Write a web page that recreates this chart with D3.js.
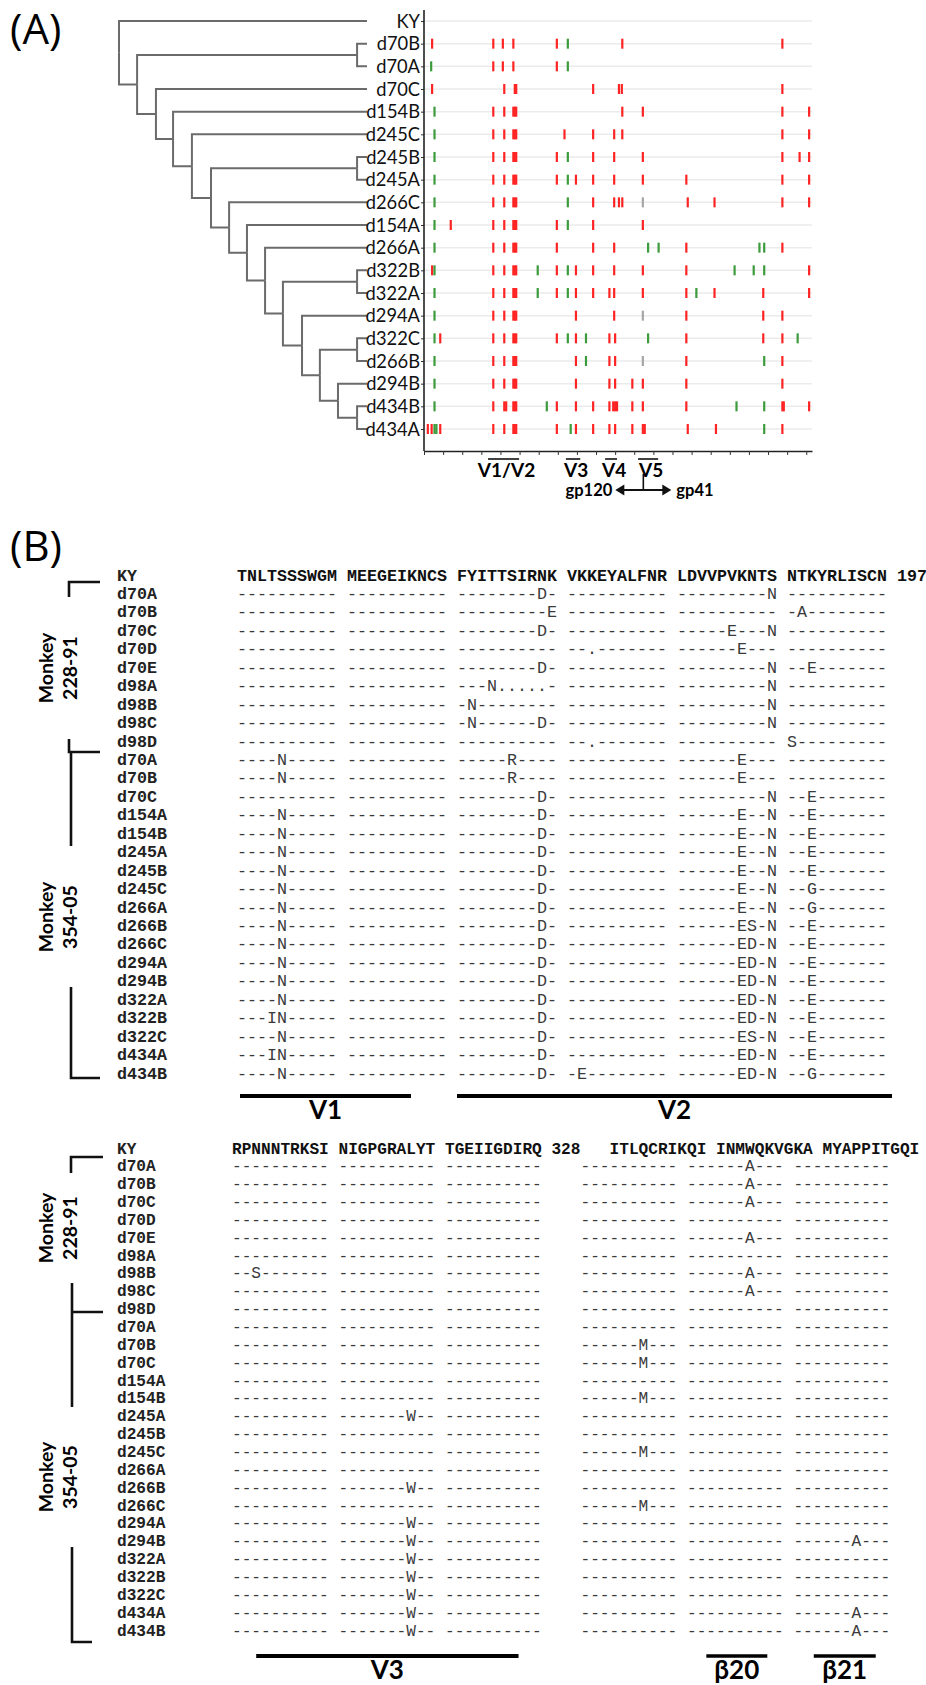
<!DOCTYPE html>
<html>
<head>
<meta charset="UTF-8">
<script src="https://d3js.org/d3.v7.min.js"></script>
<style>
  body { margin: 0; background: #fff; }
  svg text { font-family: Lato, "Open Sans", sans-serif; }
  .mono { font-family: "Courier New", "Nimbus Mono PS", "Liberation Mono", monospace; }
</style>
</head>
<body>
<svg width="926" height="1685"></svg>
<script>
// ---------- panel A: tree (id, parent, distance from root) ----------
var treeTable = [
  ["root", null, 0],
  ["KY", "root", 1],
  ["n1", "root", 0.073],
  ["c70", "n1", 0.96], ["d70B", "c70", 1], ["d70A", "c70", 1],
  ["n2", "n1", 0.149], ["d70C", "n2", 1],
  ["n3", "n2", 0.218], ["d154B", "n3", 1],
  ["n4", "n3", 0.294], ["d245C", "n4", 1],
  ["n5", "n4", 0.371],
  ["c245", "n5", 0.96], ["d245B", "c245", 1], ["d245A", "c245", 1],
  ["n6", "n5", 0.444], ["d266C", "n6", 1],
  ["n7", "n6", 0.516], ["d154A", "n7", 1],
  ["n8", "n7", 0.589], ["d266A", "n8", 1],
  ["n9", "n8", 0.661],
  ["c322", "n9", 0.96], ["d322B", "c322", 1], ["d322A", "c322", 1],
  ["n10", "n9", 0.738], ["d294A", "n10", 1],
  ["n11", "n10", 0.81],
  ["c322b", "n11", 0.96], ["d322C", "c322b", 1], ["d266B", "c322b", 1],
  ["n12", "n11", 0.883], ["d294B", "n12", 1],
  ["c434", "n12", 0.96], ["d434B", "c434", 1], ["d434A", "c434", 1]
];

// mutation positions along env (red = non-synonymous, green = synonymous, grey = other)
var redMarks = {
  d70B: [17, 145, 165, 187, 278, 415, 750],
  d70A: [145, 165, 187, 278],
  d70C: [17, 168, 190, 193, 354, 408, 414, 750],
  d154B: [145, 168, 187, 190, 193, 415, 458, 750, 806],
  d245C: [145, 168, 187, 190, 193, 294, 354, 398, 415, 750, 806],
  d245B: [145, 168, 187, 190, 193, 278, 354, 398, 458, 750, 786, 806],
  d245A: [145, 168, 187, 190, 193, 278, 318, 354, 398, 458, 549, 750, 806],
  d266C: [145, 168, 187, 190, 193, 354, 398, 408, 415, 552, 608, 750, 806],
  d154A: [56, 145, 168, 187, 190, 193, 278, 354, 458],
  d266A: [145, 168, 187, 190, 193, 278, 354, 398, 549, 750],
  d322B: [17, 145, 168, 187, 190, 193, 278, 318, 354, 398, 458, 549, 806],
  d322A: [145, 168, 187, 190, 193, 278, 318, 354, 388, 398, 458, 549, 608, 710, 806],
  d294A: [145, 168, 187, 190, 193, 318, 398, 549, 710, 750],
  d322C: [34, 145, 168, 187, 190, 193, 278, 318, 388, 400, 549, 710, 750],
  d266B: [145, 168, 187, 190, 193, 318, 388, 400, 549, 750],
  d294B: [145, 168, 187, 190, 193, 318, 388, 400, 436, 458, 549, 750],
  d434B: [145, 168, 172, 187, 190, 193, 278, 318, 354, 388, 396, 400, 404, 436, 458, 549, 750, 753, 806],
  d434A: [8, 16, 34, 145, 168, 187, 190, 193, 278, 318, 354, 388, 400, 436, 458, 462, 552, 611, 750]
};
var greenMarks = {
  d70B: [301], d70A: [15, 301], d154B: [22], d245C: [22], d245B: [22, 301],
  d245A: [22, 301], d266C: [22, 301], d154A: [22, 301],
  d266A: [22, 469, 491, 702, 712], d322B: [22, 238, 301, 650, 690, 712],
  d322A: [22, 238, 301, 570], d294A: [22], d322C: [22, 301, 339, 469, 782],
  d266B: [22, 339, 712], d294B: [22], d434B: [22, 257, 654, 712],
  d434A: [22, 26, 307, 712]
};
var greyMarks = { d266C: [458], d294A: [458], d266B: [458] };

var axisTicks = d3.range(0, 801, 40);
var regions = [["V1/V2", 134, 199], ["V3", 297, 327], ["V4", 379, 404], ["V5", 448, 490]];
var gpBoundary = 459;

// ---------- panel B: alignment ----------
var sampleNames = ["KY",
  "d70A", "d70B", "d70C", "d70D", "d70E", "d98A", "d98B", "d98C", "d98D",
  "d70A", "d70B", "d70C", "d154A", "d154B", "d245A", "d245B", "d245C", "d266A",
  "d266B", "d266C", "d294A", "d294B", "d322A", "d322B", "d322C", "d434A", "d434B"];

var seqBlock1 = [
  "TNLTSSSWGM MEEGEIKNCS FYITTSIRNK VKKEYALFNR LDVVPVKNTS NTKYRLISCN 197",
  "---------- ---------- --------D- ---------- ---------N ----------",
  "---------- ---------- ---------E ---------- ---------- -A--------",
  "---------- ---------- --------D- ---------- -----E---N ----------",
  "---------- ---------- ---------- --.------- ------E--- ----------",
  "---------- ---------- --------D- ---------- ---------N --E-------",
  "---------- ---------- ---N.....- ---------- ---------N ----------",
  "---------- ---------- -N-------- ---------- ---------N ----------",
  "---------- ---------- -N------D- ---------- ---------N ----------",
  "---------- ---------- ---------- --.------- ---------- S---------",
  "----N----- ---------- -----R---- ---------- ------E--- ----------",
  "----N----- ---------- -----R---- ---------- ------E--- ----------",
  "---------- ---------- --------D- ---------- ---------N --E-------",
  "----N----- ---------- --------D- ---------- ------E--N --E-------",
  "----N----- ---------- --------D- ---------- ------E--N --E-------",
  "----N----- ---------- --------D- ---------- ------E--N --E-------",
  "----N----- ---------- --------D- ---------- ------E--N --E-------",
  "----N----- ---------- --------D- ---------- ------E--N --G-------",
  "----N----- ---------- --------D- ---------- ------E--N --G-------",
  "----N----- ---------- --------D- ---------- ------ES-N --E-------",
  "----N----- ---------- --------D- ---------- ------ED-N --E-------",
  "----N----- ---------- --------D- ---------- ------ED-N --E-------",
  "----N----- ---------- --------D- ---------- ------ED-N --E-------",
  "----N----- ---------- --------D- ---------- ------ED-N --E-------",
  "---IN----- ---------- --------D- ---------- ------ED-N --E-------",
  "----N----- ---------- --------D- ---------- ------ES-N --E-------",
  "---IN----- ---------- --------D- ---------- ------ED-N --E-------",
  "----N----- ---------- --------D- -E-------- ------ED-N --G-------"
];

var D = "---------- ---------- ----------    ";
var seqBlock2 = [
  "RPNNNTRKSI NIGPGRALYT TGEIIGDIRQ 328   ITLQCRIKQI INMWQKVGKA MYAPPITGQI",
  D + "---------- ------A--- ----------",
  D + "---------- ------A--- ----------",
  D + "---------- ------A--- ----------",
  D + "---------- ---------- ----------",
  D + "---------- ------A--- ----------",
  D + "---------- ---------- ----------",
  "--S------- ---------- ----------    ---------- ------A--- ----------",
  D + "---------- ------A--- ----------",
  D + "---------- ---------- ----------",
  D + "---------- ---------- ----------",
  D + "------M--- ---------- ----------",
  D + "------M--- ---------- ----------",
  D + "---------- ---------- ----------",
  D + "------M--- ---------- ----------",
  "---------- -------W-- ----------    ---------- ---------- ----------",
  D + "---------- ---------- ----------",
  D + "------M--- ---------- ----------",
  D + "---------- ---------- ----------",
  "---------- -------W-- ----------    ---------- ---------- ----------",
  D + "------M--- ---------- ----------",
  "---------- -------W-- ----------    ---------- ---------- ----------",
  "---------- -------W-- ----------    ---------- ---------- ------A---",
  "---------- -------W-- ----------    ---------- ---------- ----------",
  "---------- -------W-- ----------    ---------- ---------- ----------",
  "---------- -------W-- ----------    ---------- ---------- ----------",
  "---------- -------W-- ----------    ---------- ---------- ------A---",
  "---------- -------W-- ----------    ---------- ---------- ------A---"
];

// region bars under each block, in alignment columns
var bars1 = [["V1", 0.3, 17.4], ["V2", 22, 65.5]];
var bars2 = [["V3", 2.5, 29.6], ["\u03b220", 49, 55.3], ["\u03b221", 60.1, 66.5]];

var svg = d3.select("svg");

// ================= Panel A =================
svg.append("text").attr("x", 10).attr("y", 44)
  .style("font-family", "'Open Sans'").style("font-size", "42px").text("(A)");

var root = d3.stratify().id(d => d[0]).parentId(d => d[1])(treeTable);
var leafNames = root.leaves().map(d => d.id);

var yA = d3.scalePoint().domain(leafNames).range([21, 429]);
var xTree = d3.scaleLinear().domain([0, 1]).range([119, 367]);
var xMut = d3.scaleLinear().domain([0, 812]).range([424, 812]);

root.eachAfter(function(n) {
  n.px = xTree(n.data[2]);
  if (n.children) {
    n.py = (n.children[0].py + n.children[n.children.length - 1].py) / 2;
  } else {
    n.py = yA(n.id);
  }
});

var gA = svg.append("g");

// gridlines
gA.append("g").selectAll("line").data(leafNames).join("line")
  .attr("x1", xMut(0)).attr("x2", xMut(812))
  .attr("y1", d => yA(d)).attr("y2", d => yA(d))
  .attr("stroke", "#ebebeb").attr("stroke-width", 1.5);

// tree branches
gA.append("g").selectAll("path").data(root.links()).join("path")
  .attr("d", d => "M" + d.source.px + "," + d.source.py + "V" + d.target.py + "H" + d.target.px)
  .attr("fill", "none").attr("stroke", "#6b6b6b").attr("stroke-width", 2);

// leaf labels
gA.append("g").selectAll("text").data(leafNames).join("text")
  .attr("x", 420).attr("y", d => yA(d)).attr("dy", "0.36em")
  .attr("text-anchor", "end").style("font-size", "18.3px").attr("fill", "#111")
  .text(d => d);

// axes
var yAxis = gA.append("g").attr("transform", "translate(" + xMut(0) + ",0)")
  .call(d3.axisLeft(yA).tickSize(3).tickSizeOuter(0).tickFormat(""));
yAxis.select(".domain").remove();
yAxis.selectAll("line").attr("stroke", "#333");
gA.append("line").attr("x1", xMut(0)).attr("x2", xMut(0)).attr("y1", 10).attr("y2", 451)
  .attr("stroke", "#222").attr("stroke-width", 1.6);

var xAxis = gA.append("g").attr("transform", "translate(0,451)")
  .call(d3.axisBottom(xMut).tickValues(axisTicks).tickSize(4).tickSizeOuter(0).tickFormat(""));
xAxis.select(".domain").attr("stroke", "#222").attr("stroke-width", 1.6);
xAxis.selectAll("line").attr("stroke", "#333");

// mutation marks
function marks(obj, color) {
  var list = [];
  Object.keys(obj).forEach(k => obj[k].forEach(p => list.push({ row: k, pos: p })));
  gA.append("g").selectAll("rect").data(list).join("rect")
    .attr("x", d => xMut(d.pos) - 1.1).attr("y", d => yA(d.row) - 5)
    .attr("width", 2.2).attr("height", 10).attr("fill", color);
}
marks(redMarks, "#ff2424");
marks(greenMarks, "#3c9b3c");
marks(greyMarks, "#a6a6a6");

// region labels under the axis
var reg = gA.append("g");
reg.selectAll("line").data(regions).join("line")
  .attr("x1", d => xMut(d[1])).attr("x2", d => xMut(d[2]))
  .attr("y1", 459).attr("y2", 459).attr("stroke", "#111").attr("stroke-width", 1.6);
reg.selectAll("text").data(regions).join("text")
  .attr("x", d => xMut((d[1] + d[2]) / 2) + 3).attr("y", 477)
  .attr("text-anchor", "middle").style("font-size", "19px").style("font-weight", 700)
  .text(d => d[0]);

var gx = xMut(gpBoundary);
reg.append("line").attr("x1", gx).attr("x2", gx).attr("y1", 474).attr("y2", 491)
  .attr("stroke", "#111").attr("stroke-width", 1.6);
reg.append("line").attr("x1", gx - 22).attr("x2", gx + 22).attr("y1", 490).attr("y2", 490)
  .attr("stroke", "#111").attr("stroke-width", 2.2);
reg.append("path").attr("d", "M" + (gx - 28) + ",490l9,-5.5v11z M" + (gx + 28) + ",490l-9,-5.5v11z").attr("fill", "#111");
reg.append("text").attr("x", gx - 31).attr("y", 496).attr("text-anchor", "end")
  .style("font-size", "16.5px").style("font-weight", 700).text("gp120");
reg.append("text").attr("x", gx + 33).attr("y", 496)
  .style("font-size", "16.5px").style("font-weight", 700).text("gp41");

// ================= Panel B =================
svg.append("text").attr("x", 10).attr("y", 561)
  .style("font-family", "'Open Sans'").style("font-size", "42px").text("(B)");

function drawBlock(seqs, cfg) {
  var g = svg.append("g");
  var y = d3.scalePoint().domain(d3.range(sampleNames.length)).range([cfg.y0, cfg.y1]);
  var col = d3.scaleLinear().domain([0, 1]).range([cfg.x0, cfg.x0 + cfg.cw]);
  var fs = cfg.cw / 0.6;

  g.selectAll("text.name").data(sampleNames).join("text")
    .attr("class", "mono name").attr("x", 117).attr("y", (d, i) => y(i) + 5.5)
    .style("font-size", fs + "px").style("font-weight", 700).attr("fill", "#222").text(d => d);

  seqs.forEach(function(s, i) {
    var tokens = [];
    var re = /\S+/g, m;
    while ((m = re.exec(s)) !== null) tokens.push({ t: m[0], c: m.index });
    g.append("g").selectAll("text").data(tokens).join("text")
      .attr("class", "mono").attr("x", d => col(d.c)).attr("y", y(i) + 5.5)
      .attr("textLength", d => d.t.length * cfg.cw).attr("lengthAdjust", "spacing")
      .style("font-size", fs + "px").style("font-weight", i === 0 ? 700 : 400)
      .attr("fill", i === 0 ? "#111" : "#3a3a3a").text(d => d.t);
  });

  // bars underneath
  g.selectAll("line.bar").data(cfg.bars).join("line").attr("class", "bar")
    .attr("x1", d => col(d[1])).attr("x2", d => col(d[2]))
    .attr("y1", cfg.barY).attr("y2", cfg.barY)
    .attr("stroke", "#000").attr("stroke-width", d => d[0].length > 2 ? 3.5 : 4.2);
  g.selectAll("text.bar").data(cfg.bars).join("text").attr("class", "bar")
    .attr("x", d => col((d[1] + d[2]) / 2)).attr("y", cfg.barY + 23)
    .attr("text-anchor", "middle").style("font-size", "26px").style("font-weight", 700)
    .text(d => d[0]);

  // monkey brackets
  g.append("path").attr("d", cfg.bracket).attr("fill", "none")
    .attr("stroke", "#111").attr("stroke-width", 2.6);
  [["228-91", cfg.lab1], ["354-05", cfg.lab2]].forEach(function(l) {
    g.append("text").attr("transform", "translate(53," + l[1] + ") rotate(-90)")
      .attr("text-anchor", "middle").style("font-size", "19.5px").style("font-weight", 700)
      .text("Monkey");
    g.append("text").attr("transform", "translate(77," + l[1] + ") rotate(-90)")
      .attr("text-anchor", "middle").style("font-size", "19.5px").style("font-weight", 700)
      .text(l[0]);
  });
}

drawBlock(seqBlock1, {
  x0: 237, cw: 10, y0: 575, y1: 1073, bars: bars1, barY: 1096,
  lab1: 668, lab2: 917,
  bracket: "M100,582H69V597 M69,739V752H100 M71,752V846 M71,987V1078H100"
});
drawBlock(seqBlock2, {
  x0: 232, cw: 9.68, y0: 1148, y1: 1630, bars: bars2, barY: 1656,
  lab1: 1228, lab2: 1477,
  bracket: "M103,1157H71V1173 M72,1283V1312H103 M72,1312V1407 M72,1547V1642H92"
});
</script>
</body>
</html>
